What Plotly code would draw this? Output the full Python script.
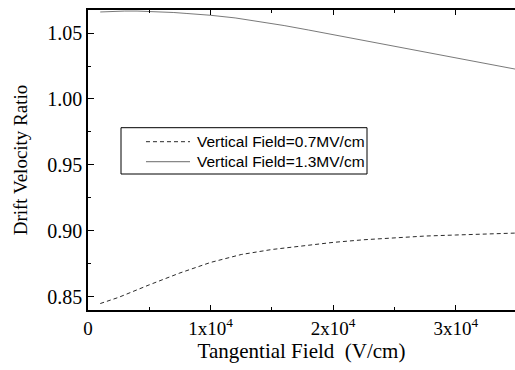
import plotly.graph_objects as go

# ---- data ----
field_low = [1000, 2500, 5000, 7500, 10000, 12500, 15000, 17500, 20000, 22500,
             25000, 27500, 30000, 32500, 35000]
ratio_low = [0.8448, 0.8495, 0.8590, 0.8680, 0.8760, 0.8820, 0.8858, 0.8887, 0.8912,
             0.8932, 0.8948, 0.8960, 0.8968, 0.8976, 0.8983]

field_high = [1000, 2000, 3000, 4000, 5000, 6000, 7000, 8000, 9000, 10000, 12000,
              14000, 16000, 18000, 20000, 22000, 24000, 26000, 28000, 30000, 32000,
              34000, 35000]
ratio_high = [1.0660, 1.0665, 1.0667, 1.0667, 1.0665, 1.0661, 1.0656, 1.0649, 1.0642,
              1.0635, 1.0615, 1.0588, 1.0557, 1.0523, 1.0488, 1.0452, 1.0417, 1.0382,
              1.0347, 1.0312, 1.0277, 1.0242, 1.0224]

series_names = ["Vertical Field=0.7MV/cm", "Vertical Field=1.3MV/cm"]

x_tickvals = [0, 10000, 20000, 30000]
x_ticktext = ["0", "1x10<sup>4</sup>", "2x10<sup>4</sup>", "3x10<sup>4</sup>"]
y_tickvals = [0.85, 0.90, 0.95, 1.00, 1.05]
y_ticktext = ["0.85", "0.90", "0.95", "1.00", "1.05"]

x_title = "Tangential Field\u00a0\u00a0(V/cm)"
y_title = "Drift Velocity Ratio"

SERIF = "Liberation Serif"
SANS = "Liberation Sans"

fig = go.Figure()
fig.add_trace(go.Scatter(x=field_low, y=ratio_low, mode="lines", name=series_names[0],
                         line=dict(color="#2a2a2a", width=1, dash="4px,3px"),
                         showlegend=False))
fig.add_trace(go.Scatter(x=field_high, y=ratio_high, mode="lines", name=series_names[1],
                         line=dict(color="#6a6a6a", width=0.9),
                         showlegend=False))

# manual legend (box, samples, labels) in paper coordinates
fig.add_shape(type="rect", xref="paper", yref="paper", x0=0.0773, x1=0.6534,
              y0=0.4533, y1=0.6077, line=dict(color="black", width=1))
leg_y = [0.561, 0.4943]
leg_dash = ["4px,3px", "solid"]
leg_col = ["#2a2a2a", "#6a6a6a"]
for name, yy, dsh, col in zip(series_names, leg_y, leg_dash, leg_col):
    fig.add_shape(type="line", xref="paper", yref="paper", x0=0.1358, x1=0.2389,
                  y0=yy, y1=yy, line=dict(color=col, width=1, dash=dsh))
    fig.add_annotation(xref="paper", yref="paper", x=0.2506, y=yy, text=name,
                       showarrow=False, xanchor="left", yanchor="middle",
                       font=dict(family=SANS, size=15.5, color="black"))

fig.update_layout(
    template="none",
    width=515, height=370,
    margin=dict(l=88, r=0, t=10, b=60),
    paper_bgcolor="white", plot_bgcolor="white",
    showlegend=False,
    font=dict(family=SERIF, color="black", size=19),
    xaxis=dict(range=[0, 34830], tickmode="array", tickvals=x_tickvals, ticktext=x_ticktext,
               ticks="inside", ticklen=5, tickwidth=1, tickcolor="black",
               showline=True, linecolor="black", linewidth=1.5, mirror="ticks",
               showgrid=False, zeroline=False,
               minor=dict(dtick=5000, tick0=0, ticks="inside", ticklen=3,
                          tickcolor="black", showgrid=False),
               tickfont=dict(family=SERIF, size=19, color="black"),
               title=dict(text=x_title, font=dict(family=SERIF, size=21, color="black"),
                          standoff=4)),
    yaxis=dict(range=[0.8399, 1.0675], tickmode="array", tickvals=y_tickvals, ticktext=y_ticktext,
               ticks="inside", ticklen=6, tickwidth=1, tickcolor="black",
               showline=True, linecolor="black", linewidth=1.5,
               showgrid=False, zeroline=False,
               minor=dict(dtick=0.025, tick0=0.825, ticks="inside", ticklen=3,
                          tickcolor="black", showgrid=False),
               tickfont=dict(family=SERIF, size=20, color="black"),
               title=dict(text=y_title, font=dict(family=SERIF, size=19, color="black"),
                          standoff=15)),
    yaxis2=dict(matches="y", overlaying="y", side="right", anchor="x",
                tickmode="array", tickvals=y_tickvals, showticklabels=False,
                ticks="inside", ticklen=6, tickwidth=1, tickcolor="black",
                showline=False, showgrid=False, zeroline=False,
                minor=dict(dtick=0.025, tick0=0.825, ticks="inside", ticklen=3,
                           tickcolor="black", showgrid=False)),
)

fig.write_html("out.html")
